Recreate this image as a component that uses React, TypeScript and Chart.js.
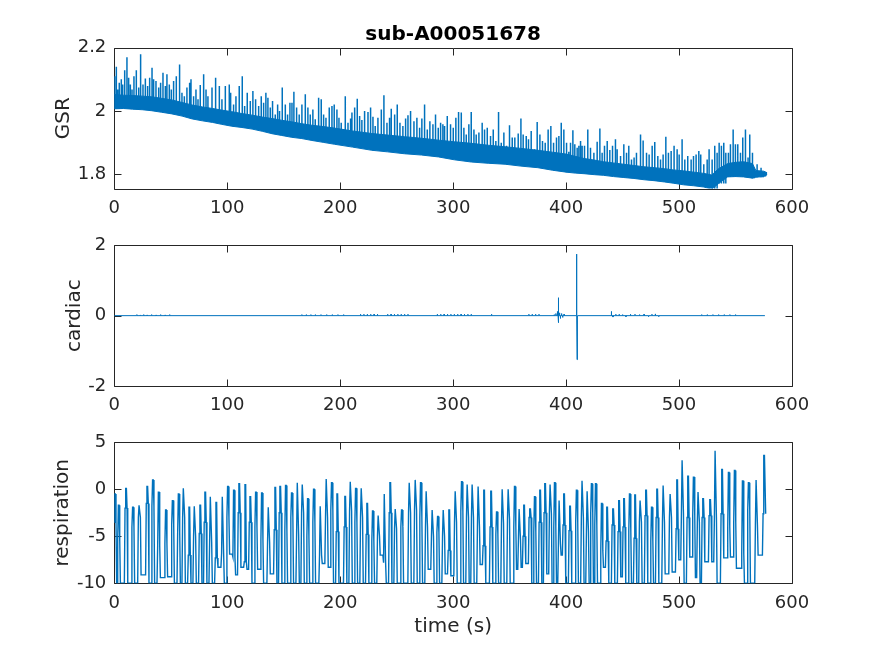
import React, { useEffect, useRef } from "react";
import { Chart, registerables } from "chart.js";
Chart.register(...registerables);

const FONT = '"DejaVu Sans", "Liberation Sans", sans-serif';
const AX = "#262626";
const BLUE = "#0072BD";

const chartTitle = "sub-A00051678";
const xLabel = "time (s)";
const xTicks = [0, 100, 200, 300, 400, 500, 600];
const gsrTicks = [1.8, 2, 2.2];
const cardiacTicks = [-2, 0, 2];
const respTicks = [-10, -5, 0, 5];

// ---------- GSR: dense band (lower / upper envelope) ----------
const gsrBandT = [0, 8, 16, 25, 33, 42, 51, 60, 69, 78, 87, 95, 104, 113, 122, 131, 140, 148, 157, 166, 175, 185, 195, 211, 228, 242, 257, 272, 287, 301, 316, 331, 346, 360, 375, 388, 400, 408, 416, 425, 433, 442, 451, 460, 469, 478, 487, 495, 504, 513, 522, 529, 535, 543, 550, 557, 565, 568, 575, 578];
const gsrBandLow = [2.007, 2.008, 2.006, 2.004, 2.001, 1.996, 1.991, 1.984, 1.975, 1.969, 1.964, 1.958, 1.952, 1.948, 1.943, 1.936, 1.928, 1.923, 1.917, 1.913, 1.907, 1.901, 1.895, 1.886, 1.876, 1.871, 1.865, 1.861, 1.855, 1.846, 1.839, 1.835, 1.832, 1.826, 1.821, 1.813, 1.807, 1.804, 1.802, 1.799, 1.797, 1.793, 1.79, 1.787, 1.783, 1.780, 1.776, 1.772, 1.767, 1.764, 1.760, 1.753, 1.771, 1.792, 1.793, 1.792, 1.788, 1.791, 1.793, 1.799];
const gsrBandHigh = [2.052, 2.050, 2.049, 2.047, 2.045, 2.040, 2.035, 2.027, 2.019, 2.013, 2.008, 2.003, 1.998, 1.992, 1.987, 1.981, 1.976, 1.971, 1.966, 1.960, 1.955, 1.951, 1.946, 1.937, 1.929, 1.924, 1.919, 1.914, 1.908, 1.903, 1.898, 1.892, 1.887, 1.882, 1.876, 1.870, 1.864, 1.857, 1.850, 1.845, 1.840, 1.836, 1.832, 1.828, 1.824, 1.821, 1.818, 1.814, 1.811, 1.807, 1.803, 1.798, 1.818, 1.834, 1.838, 1.840, 1.834, 1.812, 1.810, 1.805];

// ---------- GSR: spikes (time, top value) ----------
const gsrSpikeT = [
  0.3, 1.8, 3.0, 4.4, 6.2, 7.4, 9.2, 11.2, 12.7, 14.2,
  15.7, 17.4, 19.5, 21.6, 23.3, 25.4, 27.5, 29.5, 31.3, 33.4,
  34.8, 36.9, 39.3, 41.0, 43.1, 45.2, 46.6, 48.7, 50.5, 52.5,
  54.9, 57.8, 59.9, 62.0, 64.3, 66.7, 67.9, 70.2, 72.3, 74.1,
  76.1, 79.1, 81.2, 82.9, 86.5, 89.7, 93.0, 95.3, 98.3, 101.8,
  103.0, 105.6, 107.7, 110.6, 113.3, 115.4, 117.7, 120.4, 122.7, 125.1,
  127.8, 130.1, 132.2, 134.2, 136.0, 138.1, 140.1, 142.5, 144.6, 146.3,
  148.7, 151.4, 153.4, 155.5, 157.3, 159.0, 161.4, 163.7, 166.1, 169.1,
  171.4, 173.5, 175.8, 177.9, 180.9, 183.2, 185.3, 187.4, 190.3, 192.7,
  194.7, 197.1, 198.9, 200.9,
  204.5, 206.9, 209.2, 210.4, 212.8, 215.1, 217.2, 219.2, 221.6, 224.6,
  226.9, 229.0, 231.0, 233.4, 236.4, 238.7, 241.4, 243.7, 245.2, 248.2,
  250.5, 252.9, 255.5, 257.9, 260.0, 262.3, 265.3, 267.9, 270.3, 272.3,
  274.7, 277.1, 279.4, 282.1, 284.4, 286.8, 288.9, 290.9, 292.4, 294.8,
  297.7, 300.1, 302.4, 304.8, 307.2, 309.5, 311.6, 313.9, 316.0, 318.4,
  320.4, 322.8, 325.7, 327.8, 330.2, 333.1, 335.5, 337.8, 340.2, 342.6,
  344.9, 347.3, 349.9, 352.3, 354.6, 357.6, 360.0, 362.0, 364.7, 366.7,
  369.1, 372.1, 374.4, 376.8, 379.1, 381.5, 384.1, 386.5, 388.9, 391.5,
  393.6, 395.7,
  398.0, 400.4, 402.4, 403.9, 406.0, 407.7, 409.8, 411.3, 412.8, 414.2,
  416.3, 419.2, 421.6, 424.6, 427.5, 429.9, 431.9, 434.0, 436.4, 438.7,
  441.1, 443.7, 445.2, 448.2, 451.1, 453.5, 455.5, 457.9, 460.2, 462.3,
  465.9, 468.2, 471.2, 473.5, 476.2, 478.5, 481.2, 483.6, 485.9, 488.3,
  490.6, 493.0, 495.6, 498.3, 500.1, 502.7, 505.1, 507.7, 510.7, 512.8,
  515.1, 517.5, 519.2, 521.9, 524.9, 526.6, 529.3, 531.6, 533.7, 535.5,
  537.5, 539.6, 541.4, 543.7, 545.5, 547.9, 549.9, 552.0, 554.4, 556.4,
  558.8, 561.1, 562.6, 565.0, 566.7, 569.1, 572.6, 574.4, 576.5,
];
const gsrSpikeV = [
  2.110, 2.140, 2.068, 2.089, 2.100, 2.084, 2.129, 2.170, 2.105, 2.084,
  2.068, 2.110, 2.129, 2.074, 2.179, 2.084, 2.103, 2.079, 2.105, 2.137,
  2.100, 2.095, 2.074, 2.089, 2.121, 2.079, 2.116, 2.084, 2.068, 2.095,
  2.110, 2.147, 2.058, 2.047, 2.074, 2.089, 2.100, 2.047, 2.068, 2.037,
  2.082, 2.116, 2.068, 2.047, 2.074, 2.105, 2.079, 2.037, 2.079, 2.084,
  2.058, 2.021, 2.047, 2.079, 2.110, 2.016, 2.058, 2.032, 2.063, 2.037,
  2.016, 2.047, 2.026, 2.058, 2.042, 2.011, 2.032, 1.989, 2.021, 2.000,
  2.074, 2.021, 1.989, 2.026, 2.026, 2.061, 2.011, 1.989, 2.021, 2.053,
  2.011, 1.989, 2.005, 1.974, 2.042, 2.037, 1.989, 1.979, 2.011, 2.016,
  2.021, 2.005, 1.979, 1.963,
  2.047, 1.963, 1.976, 1.995, 2.011, 2.039, 1.984, 1.972, 2.000, 1.997,
  2.011, 1.982, 1.953, 1.979, 2.005, 2.050, 1.963, 1.979, 2.007, 1.989,
  2.021, 1.963, 1.953, 1.976, 1.987, 2.000, 1.968, 1.979, 1.947, 1.976,
  2.021, 1.942, 1.968, 1.958, 1.989, 1.947, 1.963, 1.958, 1.953, 1.984,
  1.958, 1.947, 1.979, 1.997, 1.995, 1.947, 1.926, 1.958, 1.997, 1.942,
  1.926, 1.932, 1.963, 1.942, 1.947, 1.921, 1.942, 1.905, 1.997, 1.900,
  1.932, 1.890, 1.955, 1.916, 1.916, 1.929, 1.976, 1.926, 1.921, 1.911,
  1.937, 1.879, 1.965, 1.926, 1.905, 1.900, 1.942, 1.953, 1.900, 1.916,
  1.921, 1.963,
  1.942, 1.900, 1.871, 1.900, 1.939, 1.895, 1.884, 1.890, 1.905, 1.890,
  1.890, 1.942, 1.884, 1.868, 1.903, 1.945, 1.868, 1.890, 1.905, 1.877,
  1.890, 1.911, 1.879, 1.858, 1.895, 1.868, 1.890, 1.847, 1.853, 1.868,
  1.926, 1.907, 1.868, 1.863, 1.890, 1.902, 1.858, 1.847, 1.863, 1.919,
  1.868, 1.874, 1.890, 1.879, 1.863, 1.911, 1.847, 1.858, 1.847, 1.858,
  1.863, 1.874, 1.863, 1.832, 1.847, 1.879, 1.847, 1.890, 1.868, 1.900,
  1.890, 1.900, 1.868, 1.868, 1.895, 1.942, 1.895, 1.895, 1.868, 1.916,
  1.942, 1.853, 1.926, 1.868, 1.805, 1.832, 1.821, 1.805, 1.805,
];

// ---------- cardiac: flat line with small bumps and one burst ----------
const cardiacEndT = 576;
const cardiacBumpT = [
  20, 23, 26, 29, 33, 37, 41, 45, 49,
  166, 170, 174, 178, 183, 188, 193, 198, 203,
  218, 221, 224, 227, 230, 233, 242, 245, 248, 251, 254, 257, 260,
  286, 289, 292, 295, 298, 301, 304, 307, 310, 313, 316, 334,
  367, 370, 373, 376,
  389.5, 391, 392.3, 393.0, 393.4, 394.2, 395, 396, 397, 398.2,
  409.1, 409.4, 409.7, 410.1,
  440.1, 441.5, 444, 447, 450, 453, 457, 461, 465, 469, 473, 476, 479, 482,
  520, 525, 530, 535, 540, 545, 550,
];
const cardiacBumpV = [
  0.03, 0.02, 0.03, 0.02, 0.03, 0.02, 0.03, 0.02, 0.03,
  0.03, 0.03, 0.03, 0.03, 0.03, 0.03, 0.03, 0.03, 0.03,
  0.04, 0.04, 0.04, 0.04, 0.04, 0.04, 0.04, 0.04, 0.04, 0.04, 0.04, 0.04, 0.04,
  0.04, 0.04, 0.04, 0.04, 0.04, 0.04, 0.04, 0.04, 0.04, 0.04, 0.04, 0.04,
  0.04, 0.04, 0.04, 0.04,
  0.03, 0.06, 0.12, 0.51, -0.2, 0.08, -0.08, 0.06, -0.05, 0.04,
  1.75, 0.88, -1.25, -0.1,
  0.12, -0.04, 0.04, 0.04, 0.03, -0.03, 0.04, 0.04, 0.03, 0.04, -0.03, 0.04, 0.05, -0.03,
  0.03, 0.03, 0.03, 0.03, 0.03, 0.03, 0.03,
];

// ---------- respiration: per breathing cycle ----------
const respPeakT = [
  0.6, 3.9, 10.4, 16.5, 22.2, 29.2, 34.2, 39.3, 45.7, 51.7,
  57.0, 61.4, 66.4, 71.1, 76.1, 80.5, 85.3, 90.3, 95.9, 100.6,
  105.9, 110.6, 116.0, 120.4, 125.4, 130.7, 136.6, 142.5, 146.9, 151.9,
  157.2, 162.3, 166.7, 171.4, 176.7, 182.6, 187.9, 192.6, 197.4, 204.4,
  209.2, 213.9, 218.9, 223.9, 228.9, 233.9, 239.3, 244.3, 249.0, 254.6,
  261.4, 266.7, 271.4, 276.4, 281.7, 286.5, 291.5, 296.5, 302.1, 307.7,
  312.7, 317.1, 322.4, 327.4, 333.6, 338.7, 343.7, 349.0, 354.6, 358.7,
  362.8, 368.1, 372.3, 377.0, 381.4, 386.1, 390.0, 394.1, 398.2, 403.5,
  409.4, 414.4, 418.9, 422.7, 426.3, 431.6, 436.3, 441.6, 446.9, 451.3,
  456.4, 461.1, 465.8, 470.8, 475.9, 480.6, 486.2, 492.4, 498.3, 503.0,
  508.0, 513.0, 517.1, 521.3, 527.5, 532.2, 538.1, 544.0, 549.3, 556.4,
  561.7, 568.5, 575.3,
];
const respPeak = [
  -0.5, -1.7, 0.1, -1.9, -1.7, 0.3, 1.0, -0.3, -2.2, -1.2,
  -0.5, 0.1, -1.9, -1.8, -1.7, -0.3, -0.8, -1.4, -0.8, 0.3,
  -0.1, 0.6, 0.5, -0.8, -0.3, -0.4, -1.9, 0.2, 0.3, 0.4,
  -0.4, 0.7, 0.5, -1.0, 0.0, -1.8, 1.1, 0.7, -0.5, -0.75,
  0.8, 0.1, 0.1, -1.5, -2.3, -2.8, -0.5, 0.7, -2.1, -2.2,
  0.7, 1.0, 0.7, -0.2, -2.2, -2.9, -2.2, -2.2, -0.2, 0.8,
  0.5, 0.5, 0.3, -0.1, -0.2, -2.4, 0.0, 0.0, 0.3, -2.1,
  -1.7, -2.1, -0.8, -0.1, 0.6, 0.5, 0.7, -1.2, -0.5, -1.8,
  -0.1, 0.9, -0.2, 0.6, 0.6, -1.5, -1.9, -2.1, -1.2, -1.0,
  -0.5, -0.6, -1.2, -0.1, -1.9, 0.0, 0.4, -0.5, 1.0, 3.1,
  1.4, 1.3, -0.3, -1.0, -1.1, 4.1, 2.1, 1.8, 2.0, 0.9,
  0.7, 1.0, 3.6,
];
const respShoulder = [
  -3.5, -5.4, -2.0, -4.0, -3.0, -1.5, -1.8, -6.0, -5.8, -3.8,
  -4.6, -3.0, -7.0, -5.0, -4.7, -3.5, -5.6, -7.3, -6.8, -3.0,
  -7.2, -2.5, -7.7, -3.5, -4.0, -5.4, -5.6, -4.3, -2.5, -4.3,
  -3.0, -4.8, -2.5, -5.0, -3.5, -7.0, -3.0, -2.2, -4.5, -4.0,
  -2.3, -3.5, -3.0, -4.8, -5.5, -5.0, -7.8, -2.5, -4.2, -4.0,
  -2.5, -2.2, -3.0, -4.0, -5.0, -4.6, -5.0, -6.5, -3.5, -2.3,
  -3.0, -3.0, -4.0, -6.0, -4.0, -4.8, -3.6, -3.2, -4.0, -5.3,
  -5.0, -3.0, -4.5, -3.5, -2.5, -2.6, -4.0, -5.8, -3.8, -4.4,
  -3.5, -3.0, -4.5, -2.5, -3.8, -6.5, -5.5, -3.8, -4.5, -4.0,
  -4.5, -5.2, -3.5, -2.8, -5.5, -3.0, -3.5, -3.0, -4.2, -2.5,
  -3.0, -2.8, -3.5, -3.0, -2.8, -3.0, -2.6, -4.0, -3.5, -6.8,
  -2.2, -3.8, -2.6,
];
const respTrough = [
  -10, -10, -10, -10, -9.1, -10, -10, -9.4, -9.3, -10,
  -10, -10, -10, -10, -10, -10, -10, -8.3, -10, -6.9,
  -9.1, -8.3, -8.5, -10, -8.5, -10, -9.0, -10, -10, -10,
  -10, -10, -10, -10, -10, -7.9, -8.3, -10, -10, -10,
  -10, -10, -10, -10, -10, -7.0, -10, -10, -10, -10,
  -10, -10, -10, -8.5, -10, -10, -9.0, -9.2, -10, -10,
  -10, -10, -8.0, -10, -10, -10, -10, -10, -8.5, -8.3,
  -7.9, -10, -10, -10, -9.0, -10, -10, -7.0, -10, -10,
  -10, -10, -10, -10, -10, -8.3, -10, -10, -9.3, -10,
  -10, -10, -10, -10, -10, -10, -9.0, -8.8, -7.5, -10,
  -7.2, -9.4, -10, -7.7, -7.7, -10, -7.3, -7.2, -8.4, -10,
  -10, -7.0, -10,
];

type Pt = { x: number; y: number | null };

function gsrLowData(): Pt[] {
  return gsrBandT.map((t, i) => ({ x: t, y: gsrBandLow[i] }));
}
function gsrHighData(): Pt[] {
  return gsrBandT.map((t, i) => ({ x: t, y: gsrBandHigh[i] }));
}
function gsrSpikeData(): Pt[] {
  const out: Pt[] = [];
  gsrSpikeT.forEach((t, i) => {
    let k = 0;
    while (k + 1 < gsrBandT.length && gsrBandT[k + 1] <= t) k++;
    out.push({ x: t, y: gsrBandLow[k] }, { x: t, y: gsrSpikeV[i] }, { x: t, y: null });
  });
  return out;
}
function cardiacData(): Pt[] {
  const out: Pt[] = [{ x: 0, y: 0 }];
  const hw = 0.12;
  cardiacBumpT.forEach((t, i) => {
    out.push({ x: t - hw, y: 0 }, { x: t, y: cardiacBumpV[i] }, { x: t + hw, y: 0 });
  });
  out.push({ x: cardiacEndT, y: 0 });
  return out;
}
function respData(): Pt[] {
  const out: Pt[] = [];
  const n = respPeakT.length;
  for (let i = 0; i < n; i++) {
    const tp = respPeakT[i];
    if (i === 0) {
      out.push({ x: 0, y: respShoulder[i] });
    } else {
      out.push({ x: tp - 1.5, y: respTrough[i - 1] }, { x: tp - 0.9, y: respShoulder[i] });
    }
    out.push({ x: tp - 0.3, y: respPeak[i] }, { x: tp + 0.3, y: respPeak[i] });
    if (i === n - 1) {
      out.push({ x: tp + 1.4, y: respShoulder[i] });
    } else {
      out.push({ x: tp + 0.9, y: respShoulder[i] }, { x: tp + 1.5, y: respTrough[i] });
    }
  }
  return out;
}

const axesBox = {
  id: "axesBox",
  beforeDatasetsDraw(chart: any) {
    const { ctx, chartArea: a, scales } = chart;
    const L = Math.round(a.left) + 0.5;
    const R = Math.round(a.right) + 0.5;
    const T = Math.round(a.top) + 0.5;
    const B = Math.round(a.bottom) + 0.5;
    const tl = 7;
    ctx.save();
    ctx.strokeStyle = AX;
    ctx.lineWidth = 1;
    ctx.beginPath();
    ctx.rect(L, T, R - L, B - T);
    for (const t of scales.x.ticks) {
      const p = Math.round(scales.x.getPixelForValue(t.value)) + 0.5;
      ctx.moveTo(p, B);
      ctx.lineTo(p, B - tl);
      ctx.moveTo(p, T);
      ctx.lineTo(p, T + tl);
    }
    for (const t of scales.y.ticks) {
      const p = Math.round(scales.y.getPixelForValue(t.value)) + 0.5;
      ctx.moveTo(L, p);
      ctx.lineTo(L + tl, p);
      ctx.moveTo(R, p);
      ctx.lineTo(R - tl, p);
    }
    ctx.stroke();
    ctx.restore();
  },
};

type PanelOpts = {
  datasets: any[];
  yMin: number;
  yMax: number;
  yTicks: number[];
  yTitle: string;
  yTitlePad: number;
  padTop: number;
  xHeight: number;
  title?: string;
  xTitle?: string;
};

const LEFT_W = 114.3;
const RIGHT_PAD = 83;

function makeConfig(o: PanelOpts): any {
  return {
    type: "line",
    data: { datasets: o.datasets },
    options: {
      animation: false,
      responsive: false,
      events: [],
      layout: { padding: { top: o.title ? 0 : o.padTop, right: RIGHT_PAD, bottom: 0, left: 0 } },
      elements: { point: { radius: 0 }, line: { borderWidth: 1, tension: 0 } },
      plugins: {
        legend: { display: false },
        tooltip: { enabled: false },
        title: o.title
          ? {
              display: true,
              text: o.title,
              color: "#000",
              fullSize: false,
              font: { family: FONT, size: 20, weight: "bold" },
              padding: { top: 23, bottom: o.padTop - 23 - 24 },
            }
          : { display: false },
      },
      scales: {
        x: {
          type: "linear",
          min: 0,
          max: 600,
          grid: { display: false, drawTicks: false },
          border: { display: false },
          afterBuildTicks: (s: any) => {
            s.ticks = xTicks.map((v) => ({ value: v }));
          },
          afterFit: (s: any) => {
            s.height = o.xHeight;
            s.paddingLeft = 0;
            s.paddingRight = 0;
            s.paddingTop = 0;
            s.paddingBottom = 0;
          },
          ticks: {
            padding: 9,
            color: AX,
            autoSkip: false,
            maxRotation: 0,
            font: { family: FONT, size: 18 },
            callback: (v: any) => String(v),
          },
          title: o.xTitle
            ? {
                display: true,
                text: o.xTitle,
                color: AX,
                font: { family: FONT, size: 20 },
                padding: { top: 0, bottom: 17 },
              }
            : { display: false },
        },
        y: {
          type: "linear",
          min: o.yMin,
          max: o.yMax,
          grid: { display: false, drawTicks: false },
          border: { display: false },
          afterBuildTicks: (s: any) => {
            s.ticks = o.yTicks.map((v) => ({ value: v }));
          },
          afterFit: (s: any) => {
            s.width = LEFT_W;
            s.paddingLeft = 0;
            s.paddingRight = 0;
            s.paddingTop = 0;
            s.paddingBottom = 0;
          },
          ticks: {
            padding: 8,
            color: AX,
            autoSkip: false,
            font: { family: FONT, size: 18 },
            callback: (v: any) => String(v),
          },
          title: {
            display: true,
            text: o.yTitle,
            color: AX,
            font: { family: FONT, size: 20 },
            padding: { top: o.yTitlePad, bottom: 0 },
          },
        },
      },
    },
    plugins: [axesBox],
  };
}

function lineDs(data: Pt[], extra: any = {}) {
  return {
    data,
    borderColor: BLUE,
    backgroundColor: BLUE,
    borderWidth: 1,
    pointRadius: 0,
    fill: false,
    spanGaps: false,
    ...extra,
  };
}

function Panel({ top, height, build }: { top: number; height: number; build: () => any }) {
  const ref = useRef<HTMLCanvasElement>(null);
  useEffect(() => {
    if (!ref.current) return;
    const chart = new Chart(ref.current, build());
    return () => chart.destroy();
  }, []);
  return (
    <canvas
      ref={ref}
      width={875}
      height={height}
      style={{ position: "absolute", left: 0, top, width: 875, height, display: "block" }}
    />
  );
}

export default function App() {
  return (
    <div
      style={{
        position: "absolute",
        left: 0,
        top: 0,
        width: 875,
        height: 656,
        background: "#ffffff",
        overflow: "hidden",
      }}
    >
      <Panel
        top={0}
        height={232}
        build={() =>
          makeConfig({
            datasets: [
              lineDs(gsrLowData()),
              lineDs(gsrHighData(), { fill: "-1" }),
              lineDs(gsrSpikeData(), { borderWidth: 1.5 }),
            ],
            yMin: 1.755,
            yMax: 2.2,
            yTicks: gsrTicks,
            yTitle: "GSR",
            yTitlePad: 51.5,
            padTop: 47.7,
            xHeight: 232 - 188.6,
            title: chartTitle,
          })
        }
      />
      <Panel
        top={232}
        height={193}
        build={() =>
          makeConfig({
            datasets: [lineDs(cardiacData())],
            yMin: -2,
            yMax: 2,
            yTicks: cardiacTicks,
            yTitle: "cardiac",
            yTitlePad: 62.5,
            padTop: 245.3 - 232,
            xHeight: 425 - 386,
          })
        }
      />
      <Panel
        top={425}
        height={231}
        build={() =>
          makeConfig({
            datasets: [lineDs(respData(), { borderWidth: 1.4 })],
            yMin: -10,
            yMax: 5,
            yTicks: respTicks,
            yTitle: "respiration",
            yTitlePad: 50.5,
            padTop: 442.3 - 425,
            xHeight: 656 - 583.3,
            xTitle: xLabel,
          })
        }
      />
    </div>
  );
}
